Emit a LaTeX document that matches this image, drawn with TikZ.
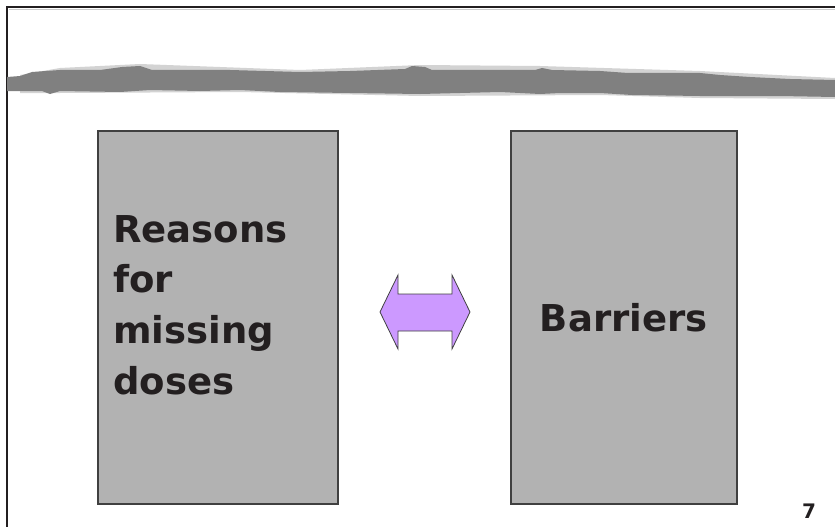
\documentclass[tikz,border=0pt]{standalone}
\usepackage{fontspec}
\setmainfont{DejaVu Sans}
\definecolor{inkdark}{HTML}{231F20}
\definecolor{boxgray}{HTML}{B2B2B2}
\definecolor{edgegray}{HTML}{404040}
\definecolor{brushgray}{HTML}{808080}
\definecolor{lilac}{HTML}{CC99FF}
\tikzset{
  panel/.style={draw=edgegray, line width=1.5pt, fill=boxgray, anchor=north west, inner sep=0pt},
  bigtext/.style={text=inkdark, font=\fontsize{37}{50.7}\selectfont\bfseries}
}
\begin{document}
\begin{tikzpicture}[x=1pt, y=-1pt]
        \useasboundingbox (0,0) rectangle (835,527);
        % slide frame
        \draw[line width=2.5pt, inkdark] (7,527) -- (7,7) -- (835,7);
        \draw[line width=1pt, gray!40] (9,9.6) -- (835,9.6);
        % brushed title rule, soft fringe first
        \fill[brushgray!35] (20,75) -- (60,68) -- (140,64) -- (300,70) -- (420,65) -- (540,66)
            -- (700,71) -- (835,78) -- (835,99) -- (700,98) -- (600,95) -- (420,96) -- (240,92)
            -- (60,93) -- (20,93) -- cycle;
        \fill[brushgray] (7,77) -- (20,76) -- (32,72) -- (60,70) -- (100,70) -- (122,67) -- (140,66)
            -- (152,70) -- (230,70) -- (300,72) -- (350,71) -- (405,69) -- (412,66) -- (425,67)
            -- (432,70) -- (535,70) -- (542,68) -- (552,70) -- (600,71) -- (628,73) -- (700,73)
            -- (720,75) -- (750,77) -- (790,79) -- (835,80)
            -- (835,97) -- (780,96) -- (700,96) -- (632,95) -- (600,93) -- (560,93) -- (540,94)
            -- (500,92) -- (420,94) -- (350,93) -- (280,92) -- (240,90) -- (200,91) -- (150,90)
            -- (120,92) -- (60,91) -- (50,94) -- (42,91) -- (7,91) -- cycle;
        % the two panels
        \node[panel, minimum width=240pt, minimum height=373pt] (reasons) at (97,130) {};
        \node[panel, minimum width=226pt, minimum height=373pt, bigtext] (barriers) at (510,130) {Barriers};
        \node[bigtext, anchor=north west, align=left, inner sep=0pt] (reasonstext) at (113,215)
            {Reasons\\for\\missing\\doses};
        % two-way block arrow
        \draw[draw=edgegray, line width=0.8pt, fill=lilac, line join=miter]
            (380,312) -- (398,275) -- (398,294) -- (452,294) -- (452,275) -- (470,312)
            -- (452,349) -- (452,331) -- (398,331) -- (398,349) -- cycle;
        % slide number
        \node[text=inkdark, font=\fontsize{20}{24}\selectfont\bfseries, anchor=base] (pagenum) at (809,518) {7};
    \end{tikzpicture}
\end{document}
